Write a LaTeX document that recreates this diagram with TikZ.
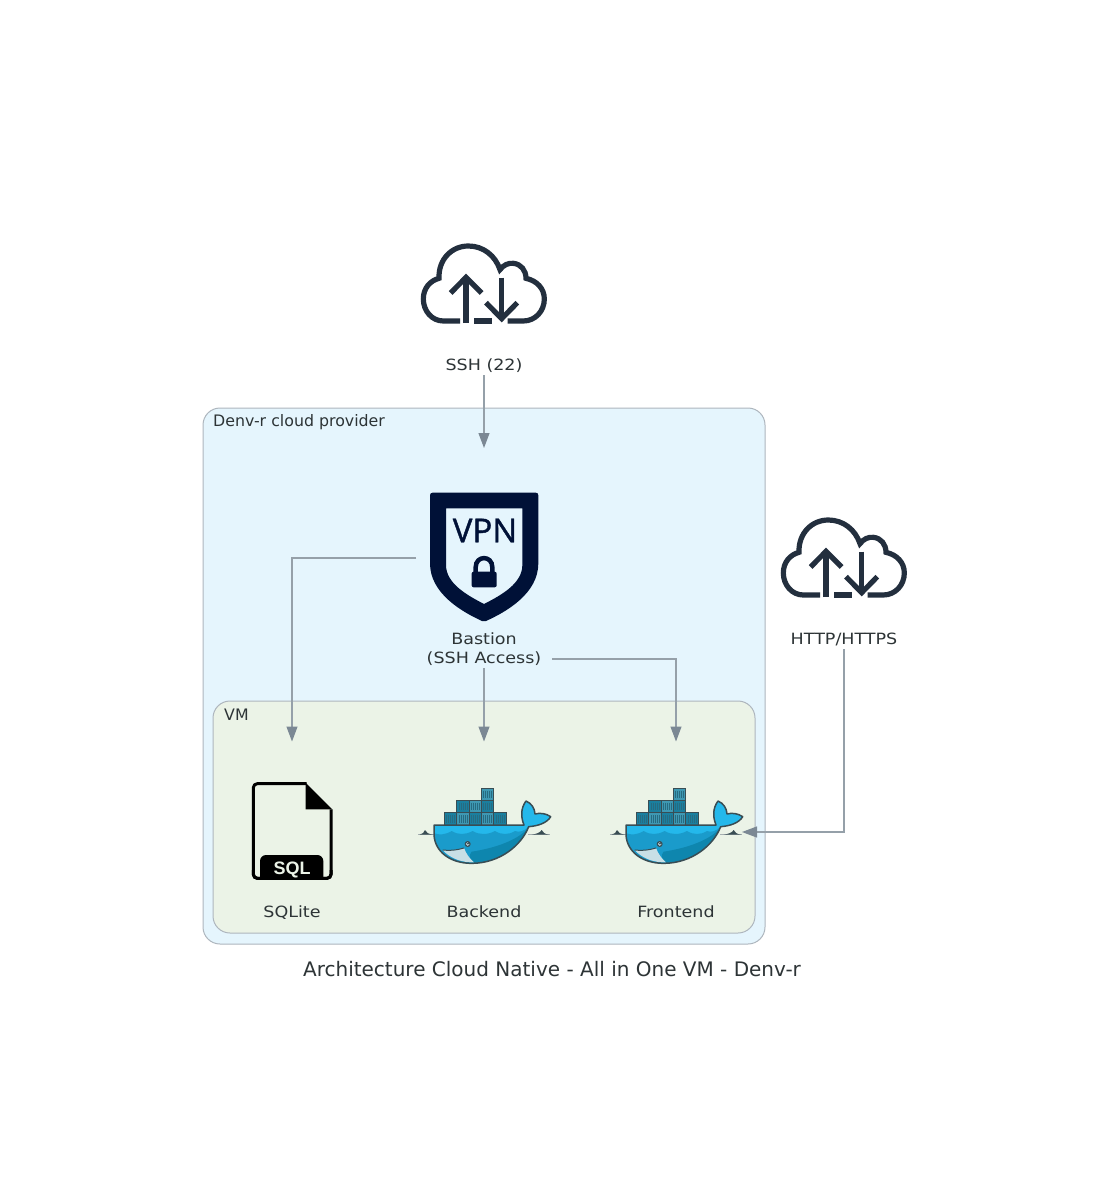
\documentclass[tikz,border=0pt]{standalone}
\usepackage{fontspec}
\setmainfont{DejaVu Sans}
\newfontfamily\vpnfont[FakeBold=1.2]{Open Sans}
\newfontfamily\sqlfont{Liberation Sans}
\newfontfamily\widefont[FakeStretch=1.13]{DejaVu Sans}
\usetikzlibrary{arrows.meta}
\definecolor{outercl}{HTML}{E5F5FD}
\definecolor{innercl}{HTML}{EBF3E7}
\definecolor{clborder}{HTML}{AEB6BE}
\definecolor{txt}{HTML}{2D3436}
\definecolor{edgecl}{HTML}{7B8894}
\definecolor{cloudcl}{HTML}{232F3E}
\definecolor{vpncl}{HTML}{001137}
\definecolor{wout}{HTML}{394D54}
\definecolor{wlight}{HTML}{24B8EB}
\definecolor{wmid}{HTML}{1A9BCB}
\definecolor{wdark}{HTML}{0E86AE}
\definecolor{wbox}{HTML}{1A7F9F}
\definecolor{wboxl}{HTML}{3E98B3}
\definecolor{wjaw}{HTML}{C8DFE6}
\tikzset{
  cluster/.style={draw=clborder,line width=1pt,rounded corners=17pt},
  lbl/.style={text=txt,font=\widefont\fontsize{15.5}{19}\selectfont,align=center,inner sep=0pt},
  cllbl/.style={text=txt,font=\fontsize{15.8}{19}\selectfont,anchor=west,inner sep=0pt},
  iconbox/.style={inner sep=0pt,outer sep=0pt,minimum width=#1},
  edge/.style={draw=edgecl!80,line width=1.1pt,-{Triangle[length=15pt,width=11pt,color=edgecl]}},
  cloudstroke/.style={draw=cloudcl,line width=5.2pt},
  crate/.style={fill=wbox,draw=wout,line width=0.8pt},
  cloudicon/.pic={
    \begin{scope}[xscale=1/3,yscale=1/3]
      \draw[cloudstroke,line cap=butt] (150,258) -- (100,258)
        .. controls (66,258) and (40,228) .. (40,192)
        .. controls (40,160) and (60,137) .. (87,130)
        .. controls (85,73) and (125,33) .. (175,33)
        .. controls (220,33) and (256,62) .. (270,104)
        .. controls (280,90) and (296,83) .. (310,85)
        .. controls (333,87) and (348,106) .. (348,130)
        .. controls (380,137) and (403,160) .. (403,192)
        .. controls (403,228) and (376,258) .. (340,258)
        -- (293,258);
      \draw[cloudstroke] (193,258) -- (247,258);
      \draw[cloudstroke] (168,264) -- (168,128);
      \draw[cloudstroke,line join=miter] (122,174) -- (168,127) -- (215,174);
      \draw[cloudstroke] (275,128) -- (275,250);
      \draw[cloudstroke,line join=miter] (228,203) -- (275,251) -- (322,203);
    \end{scope}
  },
  whaleicon/.pic={
    \begin{scope}[xscale=1/3,yscale=1/3]
      % water
      \draw[draw=wout!45,line width=1pt] (55,194) -- (102,194) (385,194) -- (450,194);
      \fill[wout] (58,194) .. controls (68,192) and (72,188) .. (75,180) .. controls (78,188) and (85,192) .. (100,194) -- cycle;
      \fill[wout] (395,194) .. controls (410,192) and (420,188) .. (425,180) .. controls (428,188) and (435,192) .. (447,194) -- cycle;
      % containers
      \foreach \cx/\cy/\ccl in {133/128/wbox,170/128/wboxl,207/128/wbox,244/128/wboxl,281/128/wbox,
                                170/91/wbox,207/91/wboxl,244/91/wbox,244/55/wboxl}{
        \draw[crate,fill=\ccl] (\cx,\cy) rectangle ++(37,37);
        \foreach \dd in {7,13,19,25,31}{
          \draw[wout!40!wbox,line width=0.4pt] (\cx+\dd,\cy+7) -- ++(0,23);
        }
      }
      % whale body
      \path[fill=wlight] (102,165) -- (372,165)
        .. controls (362,140) and (362,115) .. (378,93)
        .. controls (395,100) and (404,115) .. (405,132)
        .. controls (420,128) and (438,130) .. (452,140)
        .. controls (442,158) and (415,168) .. (386,170)
        .. controls (365,225) and (300,280) .. (215,280)
        .. controls (150,280) and (105,245) .. (102,195) -- cycle;
      % lower blue
      \fill[wmid] (103,190) .. controls (118,195) and (135,195) .. (155,183)
        .. controls (175,195) and (195,195) .. (218,183)
        .. controls (238,195) and (262,195) .. (285,183)
        .. controls (305,195) and (325,195) .. (345,183)
        .. controls (358,188) and (372,184) .. (386,170)
        .. controls (365,225) and (300,280) .. (215,280)
        .. controls (150,280) and (105,245) .. (103,190) -- cycle;
      % darker swoosh
      \fill[wdark] (375,184) .. controls (340,215) and (280,235) .. (215,245)
        .. controls (205,255) and (210,270) .. (222,278)
        .. controls (300,278) and (360,225) .. (384,176) -- cycle;
      % jaw
      \fill[wjaw] (128,240) .. controls (150,243) and (172,240) .. (192,234)
        .. controls (198,250) and (208,265) .. (222,277)
        .. controls (185,278) and (150,265) .. (128,240) -- cycle;
      \draw[wout,line width=1pt] (128,240) .. controls (150,243) and (172,240) .. (192,234);
      % outline
      \draw[wout,line width=1.5pt,line join=round] (102,165) -- (372,165)
        .. controls (362,140) and (362,115) .. (378,93)
        .. controls (395,100) and (404,115) .. (405,132)
        .. controls (420,128) and (438,130) .. (452,140)
        .. controls (442,158) and (415,168) .. (386,170)
        .. controls (365,225) and (300,280) .. (215,280)
        .. controls (150,280) and (105,245) .. (102,195) -- cycle;
      % eye
      \fill[wout] (203,222) circle (9);
      \fill[wjaw] (203,222) circle (5.5);
      \fill[wout] (204,221) circle (3);
    \end{scope}
  }
}
\begin{document}
\begin{tikzpicture}[x=1pt,y=-1pt]
\useasboundingbox (0,0) rectangle (1103,1180);
\fill[white] (0,0) rectangle (1103,1180);
% clusters
\path[cluster,fill=outercl] (203,408) rectangle (765,944);
\node[cllbl] (outerlabel) at (213,422.5) {Denv-r cloud provider};
\path[cluster,fill=innercl] (213,701) rectangle (755,933);
\node[cllbl] (innerlabel) at (224,714.5) {VM};

% graph nodes (icon + label area)
\node[iconbox=136pt,minimum height=128pt] (ssh) at (484,311) {};
\node[iconbox=136pt,minimum height=220pt] (bastion) at (484,558) {};
\node[iconbox=136pt,minimum height=132pt] (http) at (844,583) {};
\node[iconbox=132pt,minimum height=181pt] (sqlite) at (292,832) {};
\node[iconbox=132pt,minimum height=181pt] (backend) at (484,832) {};
\node[iconbox=132pt,minimum height=181pt] (frontend) at (676,832) {};
\coordinate (bastionexit) at (552,659);

% cloud icons
\pic at (410,235) {cloudicon};
\pic at (770,509) {cloudicon};

% VPN shield
\begin{scope}[shift={(410,480)},xscale=1/3,yscale=1/3]
  \fill[vpncl,even odd rule] (68,38) -- (377,38)
    .. controls (382,38) and (385,41) .. (385,46) -- (385,250)
    .. controls (385,340) and (290,395) .. (228,423)
    .. controls (224,425) and (220,425) .. (216,423)
    .. controls (155,395) and (60,340) .. (60,250) -- (60,46)
    .. controls (60,41) and (63,38) .. (68,38) -- cycle
    (108,85) -- (337,85) -- (337,255)
    .. controls (337,310) and (275,345) .. (222,372)
    .. controls (170,345) and (108,310) .. (108,255) -- cycle;
  \fill[vpncl,rounded corners=2pt] (185,275) rectangle (260,322);
  \draw[vpncl,line width=4.5pt] (197,280) -- (197,262)
    .. controls (197,225) and (247,225) .. (247,262) -- (247,280);
\end{scope}
\node[inner sep=0pt,text=vpncl,font=\vpnfont\fontsize{33}{33}\selectfont] (vpntext) at (485,530.5) {VPN};

% SQL file
\begin{scope}[shift={(240,770)},xscale=1/3,yscale=1/3]
  \draw[black,line width=3pt,line join=round,rounded corners=4pt] (200,41) -- (40,41) -- (40,325) -- (273,325) -- (273,118);
  \fill[black] (197,38) -- (277,118) -- (197,118) -- cycle;
  \fill[black,rounded corners=6pt] (60,255) -- (250,255) -- (250,340) -- (60,340) -- cycle;
  \fill[innercl] (50,327) rectangle (262,345);
  \draw[black,line width=3pt,rounded corners=4pt] (40,300) -- (40,325) -- (273,325) -- (273,300);
\end{scope}
\node[inner sep=0pt,text=innercl,font=\sqlfont\bfseries\fontsize{18}{18}\selectfont] (sqltext) at (292,869.5) {SQL};

% whales
\pic at (400,770) {whaleicon};
\pic at (592,770) {whaleicon};

% labels
\node[lbl] (ssht) at (484,365.5) {SSH (22)};
\node[lbl] (bast1) at (484,639) {Bastion};
\node[lbl] (bast2) at (484,658.5) {(SSH Access)};
\node[lbl] (httpt) at (844,639) {HTTP/HTTPS};
\node[lbl] (sqlt) at (292,912.5) {SQLite};
\node[lbl] (backt) at (484,912) {Backend};
\node[lbl] (frontt) at (676,912) {Frontend};
\node[text=txt,inner sep=0pt,font=\fontsize{20}{24}\selectfont] (title) at (552,969.5) {Architecture Cloud Native - All in One VM - Denv-r};

% connectors
\draw[edge] (ssh.south) -- (bastion.north);
\draw[edge] (bastion.west) -| (sqlite.north);
\draw[edge] (bastion.south) -- (backend.north);
\draw[edge] (bastionexit) -| (frontend.north);
\draw[edge] (http.south) |- (frontend.east);
\end{tikzpicture}
\end{document}
